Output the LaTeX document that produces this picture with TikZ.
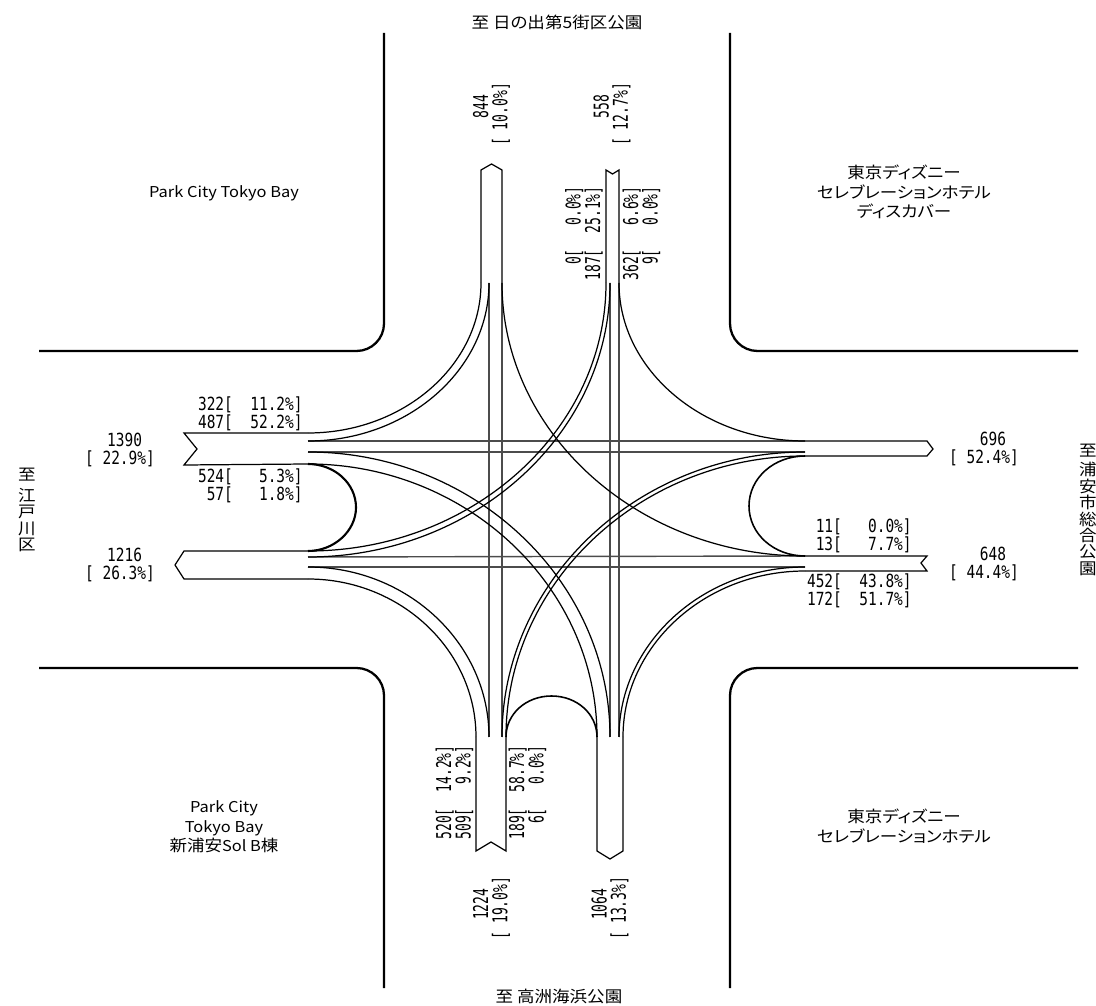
\documentclass[tikz,border=0pt]{standalone}
\usepackage{fontspec}
\setmainfont[RawFeature=+palt,FakeStretch=1.1]{Noto Sans CJK JP}
\newfontfamily\gothic[FakeStretch=0.8]{DejaVu Sans Mono}
\newfontfamily\gothicv[FakeStretch=0.64]{DejaVu Sans Mono}
\usetikzlibrary{calc}
\newcommand{\sk}{\phantom{0}}
\newcommand{\pad}{\sk\kern2.3pt}
\newcommand{\latn}[1]{{\fontsize{8.5pt}{11.2pt}\selectfont #1}}

\begin{document}
\begin{tikzpicture}[
  x=0.02cm, y=-0.02cm,
  wall/.style={line width=1.3pt, rounded corners=0.55cm},
  road/.style={line width=0.7pt},
  through/.style={line width=0.8pt, draw=black!70},
  uturn/.style={line width=0.9pt},
  vol/.style={font=\gothic\fontsize{10.3pt}{10.2pt}\selectfont, align=right, inner sep=0pt},
  share/.style={font=\gothic\fontsize{10.3pt}{10.2pt}\selectfont, align=right, inner sep=0pt, anchor=east},
  volv/.style={font=\gothicv\fontsize{11.6pt}{11.05pt}\selectfont, align=right, inner sep=0pt, rotate=90},
  sharev/.style={font=\gothicv\fontsize{11.6pt}{11.05pt}\selectfont, align=right, inner sep=0pt, rotate=90, anchor=east},
  place/.style={font=\fontsize{9.07pt}{11.2pt}\selectfont, align=center, inner sep=0pt},
  stack/.style={font=\fontsize{9.07pt}{9.35pt}\selectfont, align=center, inner sep=0pt}
]
\useasboundingbox (0,0) rectangle (1096,1006);

% kerb lines
\draw[wall] (384,33) -- (384,351) -- (39,351);
\draw[wall] (730,33) -- (730,351) -- (1078,351);
\draw[wall] (39,668) -- (384,668) -- (384,988);
\draw[wall] (1078,668) -- (730,668) -- (730,988);

% ends of the arm lines
\foreach \name/\y in {wa/433, wb/441, wc/452, wd/464, we/551, wf/557, wg/567, wh/579}
  \coordinate (\name) at (308,\y);
\foreach \name/\y in {ea/441, eb/452, ec/456, ed/556, ee/567, ef/571}
  \coordinate (\name) at (805,\y);
\foreach \name/\x in {na/481, nb/489, nc/502, nd/606, ne/610, nf/619}
  \coordinate (\name) at (\x,283);
\foreach \name/\x in {sa/476, sb/489, sc/502, sd/506, se/597, sf/610, sg/619, sh/623}
  \coordinate (\name) at (\x,737);

% arms
\draw[road] (wa) -- (184,433) -- (197,449) -- (184,465) -- (wd);
\draw[road] (we) -- (184,551) -- (175,565) -- (184,579) -- (wh);
\draw[road] (ea) -- (927,441) -- (933,449) -- (927,456) -- (ec);
\draw[road] (ed) -- (927,556) -- (921,563) -- (927,571) -- (ef);
\draw[road] (na) -- (481,170) -- (491.5,164) -- (502,170) -- (nc);
\draw[road] (nd) -- (606,170) -- (612.5,174) -- (619,170) -- (nf);
\draw[road] (sa) -- (476,851) -- (491,842) -- (506,851) -- (sd);
\draw[road] (se) -- (597,851) -- (610,859) -- (623,851) -- (sh);

% straight through
\foreach \a/\b in {wb/ea, wc/eb, wf/ed, wg/ee, nb/sb, nc/sc, ne/sf, nf/sg}
  \draw[through] (\a) -- (\b);

% turns, horizontal end first
\foreach \a/\b in {wa/na, wb/nb, wc/sf, wd/se, we/nd, wf/ne, wg/sb, wh/sa,
                   ea/nf, eb/sc, ec/sd, ed/nc, ee/sg, ef/sh}
  \draw[road] (\a) .. controls ($(\a)!0.55!(\a -| \b)$) and ($(\b)!0.55!(\a -| \b)$) .. (\b);

% u-turns
\draw[uturn, line width=1.2pt] (wd) .. controls (334,464) and (356,483) .. (356,507.5) .. controls (356,531) and (334,551) .. (we);
\draw[uturn] (ec) .. controls (774,456) and (749,478) .. (749,506) .. controls (749,534) and (774,556) .. (ed);
\draw[uturn] (sd) .. controls (506,714) and (526,696) .. (551.5,696) .. controls (577,696) and (597,714) .. (se);

% west
\node[vol] (wtotin) at (120,450) {1390\pad\\{}[\sk22.9\%]};
\node[vol] (wtotout) at (120,565) {1216\pad\\{}[\sk26.3\%]};
\node[share] (wup) at (303,414) {322[\sk\sk11.2\%]\\487[\sk\sk52.2\%]};
\node[share] (wlow) at (303,486) {524[\sk\sk\sk5.3\%]\\57[\sk\sk\sk1.8\%]};
% east
\node[vol] (etotout) at (984,449) {696\pad\\{}[\sk52.4\%]};
\node[vol] (etotin) at (984,564) {648\pad\\{}[\sk44.4\%]};
\node[share] (eup) at (912,536) {11[\sk\sk\sk0.0\%]\\13[\sk\sk\sk7.7\%]};
\node[share] (elow) at (912,591) {452[\sk\sk43.8\%]\\172[\sk\sk51.7\%]};
% north
\node[volv] (ntotout) at (491.5,114.5) {844\pad\\{}[\sk10.0\%]};
\node[volv] (ntotin) at (612,114.5) {558\pad\\{}[\sk12.7\%]};
\node[sharev] (nleft) at (584,186) {0[\sk\sk\sk0.0\%]\\187[\sk\sk25.1\%]};
\node[sharev] (nright) at (641.5,186) {362[\sk\sk\sk6.6\%]\\9[\sk\sk\sk0.0\%]};
% south
\node[volv] (stotin) at (491.5,908) {1224\pad\\{}[\sk19.0\%]};
\node[volv] (stotout) at (610,908) {1064\pad\\{}[\sk13.3\%]};
\node[sharev] (sleft) at (454.5,745) {520[\sk\sk14.2\%]\\509[\sk\sk\sk9.2\%]};
\node[sharev] (sright) at (527.5,745) {189[\sk\sk58.7\%]\\6[\sk\sk\sk0.0\%]};

% places
\node[place] (ptop) at (557,22) {至 日の出第5街区公園};
\node[place] (pbottom) at (559,996) {至 高洲海浜公園};
\node[stack] (pleft) at (27,510) {至\\[2.5pt]江\\戸\\川\\区};
\node[stack] (pright) at (1088,510) {至\\[1.5pt]浦\\安\\市\\総\\合\\公\\園};
\node[place] (pnw) at (224,193) {\latn{Park City Tokyo Bay}};
\node[place] (pne) at (904,192) {東京ディズニー\\セレブレーションホテル\\ディスカバー};
\node[place] (psw) at (224,827) {\latn{Park City}\\\latn{Tokyo Bay}\\新浦安\latn{Sol B}棟};
\node[place] (pse) at (904,826) {東京ディズニー\\セレブレーションホテル};
\end{tikzpicture}
\end{document}
